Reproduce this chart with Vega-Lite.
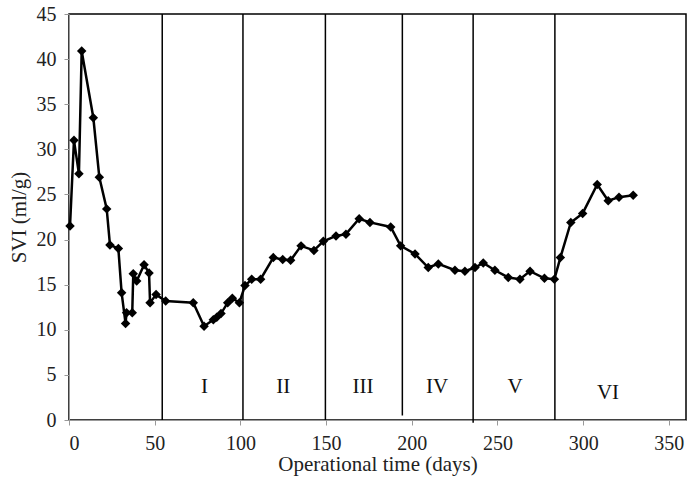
{
  "$schema": "https://vega.github.io/schema/vega-lite/v6.json",
  "width": 617,
  "height": 406,
  "autosize": "none",
  "padding": {"left": 69, "top": 14, "right": 3, "bottom": 64},
  "background": "white",
  "config": {
    "view": {"stroke": "#000", "strokeWidth": 1.5},
    "font": "Liberation Serif",
    "axis": {
      "domainColor": "#999",
      "tickColor": "#999",
      "grid": false,
      "labelFont": "Liberation Serif",
      "titleFont": "Liberation Serif",
      "labelFontSize": 20,
      "titleFontSize": 21,
      "titleFontWeight": "normal",
      "labelColor": "#222",
      "titleColor": "#222",
      "tickSize": 5,
      "labelPadding": 8
    }
  },
  "datasets": {
    "svi": [
      {"t": 0.6, "svi": 21.5}, {"t": 2.9, "svi": 31.0}, {"t": 5.8, "svi": 27.3}, {"t": 7.4, "svi": 40.9},
      {"t": 14.2, "svi": 33.5}, {"t": 17.7, "svi": 26.9}, {"t": 22.0, "svi": 23.4}, {"t": 23.9, "svi": 19.4},
      {"t": 28.8, "svi": 19.0}, {"t": 30.7, "svi": 14.1}, {"t": 33.0, "svi": 10.7}, {"t": 33.6, "svi": 11.9},
      {"t": 36.9, "svi": 11.9}, {"t": 37.5, "svi": 16.2}, {"t": 39.5, "svi": 15.4}, {"t": 43.8, "svi": 17.2},
      {"t": 46.7, "svi": 16.3}, {"t": 47.3, "svi": 13.0}, {"t": 50.8, "svi": 13.9}, {"t": 56.4, "svi": 13.2},
      {"t": 72.5, "svi": 13.0}, {"t": 78.8, "svi": 10.4}, {"t": 84.2, "svi": 11.1}, {"t": 86.2, "svi": 11.4},
      {"t": 88.7, "svi": 11.8}, {"t": 92.6, "svi": 13.0}, {"t": 95.3, "svi": 13.5}, {"t": 99.4, "svi": 13.0},
      {"t": 102.7, "svi": 14.9}, {"t": 106.6, "svi": 15.6}, {"t": 111.8, "svi": 15.6}, {"t": 119.2, "svi": 18.0},
      {"t": 124.7, "svi": 17.8}, {"t": 129.3, "svi": 17.7}, {"t": 135.4, "svi": 19.3}, {"t": 142.9, "svi": 18.8},
      {"t": 148.4, "svi": 19.8}, {"t": 155.8, "svi": 20.4}, {"t": 161.6, "svi": 20.6}, {"t": 169.3, "svi": 22.3},
      {"t": 175.6, "svi": 21.9}, {"t": 187.7, "svi": 21.4}, {"t": 193.5, "svi": 19.3}, {"t": 201.9, "svi": 18.4},
      {"t": 209.6, "svi": 16.9}, {"t": 215.5, "svi": 17.3}, {"t": 225.2, "svi": 16.6}, {"t": 231.0, "svi": 16.5},
      {"t": 236.9, "svi": 16.9}, {"t": 241.7, "svi": 17.4}, {"t": 248.5, "svi": 16.6}, {"t": 256.3, "svi": 15.8},
      {"t": 263.1, "svi": 15.6}, {"t": 269.0, "svi": 16.5}, {"t": 277.4, "svi": 15.7}, {"t": 283.2, "svi": 15.6},
      {"t": 286.7, "svi": 18.0}, {"t": 292.8, "svi": 21.9}, {"t": 299.7, "svi": 22.9}, {"t": 308.2, "svi": 26.1},
      {"t": 314.6, "svi": 24.3}, {"t": 320.9, "svi": 24.7}, {"t": 329.2, "svi": 24.9}
    ],
    "phases": [
      {"t": 54.4, "top": 45, "bottom": 0},
      {"t": 101.5, "top": 45, "bottom": 0},
      {"t": 149.6, "top": 45, "bottom": 0},
      {"t": 194.5, "top": 45, "bottom": 0.5},
      {"t": 235.8, "top": 45, "bottom": -0.3},
      {"t": 283.5, "top": 45, "bottom": 0}
    ],
    "labels": [
      {"t": 79, "v": 3.7, "label": "I"},
      {"t": 125, "v": 3.7, "label": "II"},
      {"t": 171.5, "v": 3.7, "label": "III"},
      {"t": 214.7, "v": 3.7, "label": "IV"},
      {"t": 260.2, "v": 3.7, "label": "V"},
      {"t": 314.5, "v": 3.0, "label": "VI"}
    ]
  },
  "layer": [
    {
      "data": {"name": "phases"},
      "mark": {"type": "rule", "color": "#000", "strokeWidth": 1.5},
      "encoding": {
        "x": {"field": "t", "type": "quantitative", "scale": {"domain": [0, 360], "nice": false}},
        "y": {"field": "top", "type": "quantitative", "scale": {"domain": [0, 45], "nice": false}},
        "y2": {"field": "bottom"}
      }
    },
    {
      "data": {"name": "labels"},
      "mark": {"type": "text", "font": "Liberation Serif", "fontSize": 21, "color": "#111", "baseline": "middle", "align": "center"},
      "encoding": {
        "x": {"field": "t", "type": "quantitative"},
        "y": {"field": "v", "type": "quantitative"},
        "text": {"field": "label"}
      }
    },
    {
      "data": {"name": "svi"},
      "mark": {"type": "line", "color": "#000", "strokeWidth": 2.5, "point": {"shape": "diamond", "size": 90, "filled": true, "color": "#000"}},
      "encoding": {
        "x": {"field": "t", "type": "quantitative", "scale": {"domain": [0, 360], "nice": false},
              "axis": {"values": [0, 50, 100, 150, 200, 250, 300, 350], "title": "Operational time (days)", "titlePadding": 0}},
        "y": {"field": "svi", "type": "quantitative", "scale": {"domain": [0, 45], "nice": false},
              "axis": {"values": [0, 5, 10, 15, 20, 25, 30, 35, 40, 45], "title": "SVI (ml/g)", "titlePadding": 7}}
      }
    }
  ]
}
